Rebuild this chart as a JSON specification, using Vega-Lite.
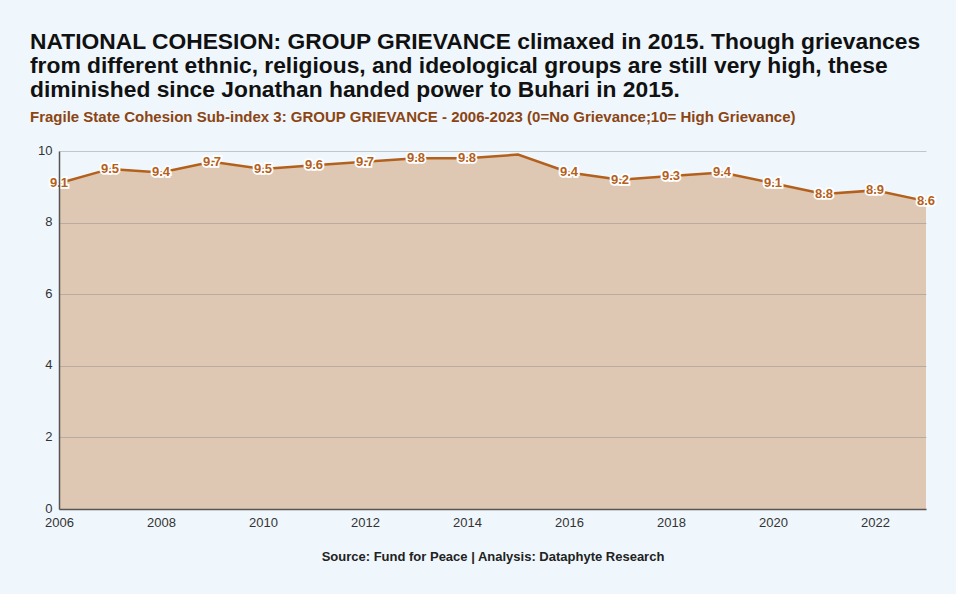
{
  "$schema": "https://vega.github.io/schema/vega-lite/v6.json",
  "autosize": {"type": "none"},
  "width": 867,
  "height": 358,
  "padding": {"left": 59, "top": 151, "right": 30, "bottom": 85},
  "background": "#eff7fd",
  "config": {
    "view": {"stroke": null},
    "font": "Liberation Sans"
  },
  "title": {
    "text": [
      "NATIONAL COHESION: GROUP GRIEVANCE climaxed in 2015. Though grievances",
      "from different ethnic, religious, and ideological groups are still very high, these",
      "diminished since Jonathan handed power to Buhari in 2015."
    ],
    "subtitle": "Fragile State Cohesion Sub-index 3: GROUP GRIEVANCE - 2006-2023 (0=No Grievance;10= High Grievance)",
    "anchor": "start",
    "frame": "group",
    "dx": -29,
    "offset": 19,
    "font": "Liberation Sans",
    "fontSize": 22.8,
    "fontWeight": "bold",
    "color": "#111111",
    "lineHeight": 24,
    "subtitleFont": "Liberation Sans",
    "subtitleFontSize": 15,
    "subtitleFontWeight": "bold",
    "subtitleColor": "#8b4513",
    "subtitlePadding": 8
  },
  "data": {
    "values": [
      {"year": 2006, "value": 9.1},
      {"year": 2007, "value": 9.5},
      {"year": 2008, "value": 9.4},
      {"year": 2009, "value": 9.7},
      {"year": 2010, "value": 9.5},
      {"year": 2011, "value": 9.6},
      {"year": 2012, "value": 9.7},
      {"year": 2013, "value": 9.8},
      {"year": 2014, "value": 9.8},
      {"year": 2015, "value": 9.9},
      {"year": 2016, "value": 9.4},
      {"year": 2017, "value": 9.2},
      {"year": 2018, "value": 9.3},
      {"year": 2019, "value": 9.4},
      {"year": 2020, "value": 9.1},
      {"year": 2021, "value": 8.8},
      {"year": 2022, "value": 8.9},
      {"year": 2023, "value": 8.6}
    ]
  },
  "encoding": {
    "x": {
      "field": "year",
      "type": "quantitative",
      "scale": {"domain": [2006, 2023], "nice": false, "zero": false},
      "axis": {
        "values": [2006, 2008, 2010, 2012, 2014, 2016, 2018, 2020, 2022],
        "format": "d",
        "grid": false,
        "ticks": false,
        "labelFlush": false,
        "labelPadding": 7,
        "labelFontSize": 13,
        "labelColor": "#333333",
        "labelFont": "Liberation Sans",
        "domainColor": "#555555",
        "domainWidth": 1.5,
        "zindex": 1,
        "title": "Source: Fund for Peace | Analysis: Dataphyte Research",
        "titleFont": "Liberation Sans",
        "titleFontSize": 13,
        "titleFontWeight": "bold",
        "titleColor": "#222222",
        "titlePadding": 21
      }
    },
    "y": {
      "field": "value",
      "type": "quantitative",
      "scale": {"domain": [0, 10], "nice": false},
      "axis": {
        "values": [0, 2, 4, 6, 8, 10],
        "title": null,
        "grid": true,
        "gridColor": "#8a8a8a",
        "gridOpacity": 0.45,
        "tickSize": 0,
        "labelPadding": 7,
        "labelFontSize": 13,
        "labelColor": "#333333",
        "labelFont": "Liberation Sans",
        "labelBaseline": "middle",
        "labelOffset": -1,
        "domainColor": "#555555",
        "domainWidth": 1.5,
        "zindex": 1
      }
    }
  },
  "layer": [
    {"mark": {"type": "area", "color": "#dfc8b3", "opacity": 1}},
    {"mark": {"type": "line", "color": "#b3601c", "strokeWidth": 2.5}},
    {
      "transform": [{"filter": "datum.year != 2015"}],
      "mark": {"type": "text", "fontSize": 13, "fontWeight": "bold", "font": "Liberation Sans", "stroke": "white", "strokeWidth": 3.5, "fill": "white", "align": "center", "baseline": "middle"},
      "encoding": {"text": {"field": "value", "type": "quantitative", "format": ".1f"}}
    },
    {
      "transform": [{"filter": "datum.year != 2015"}],
      "mark": {"type": "text", "fontSize": 13, "fontWeight": "bold", "font": "Liberation Sans", "fill": "#b3601c", "align": "center", "baseline": "middle"},
      "encoding": {"text": {"field": "value", "type": "quantitative", "format": ".1f"}}
    }
  ]
}
